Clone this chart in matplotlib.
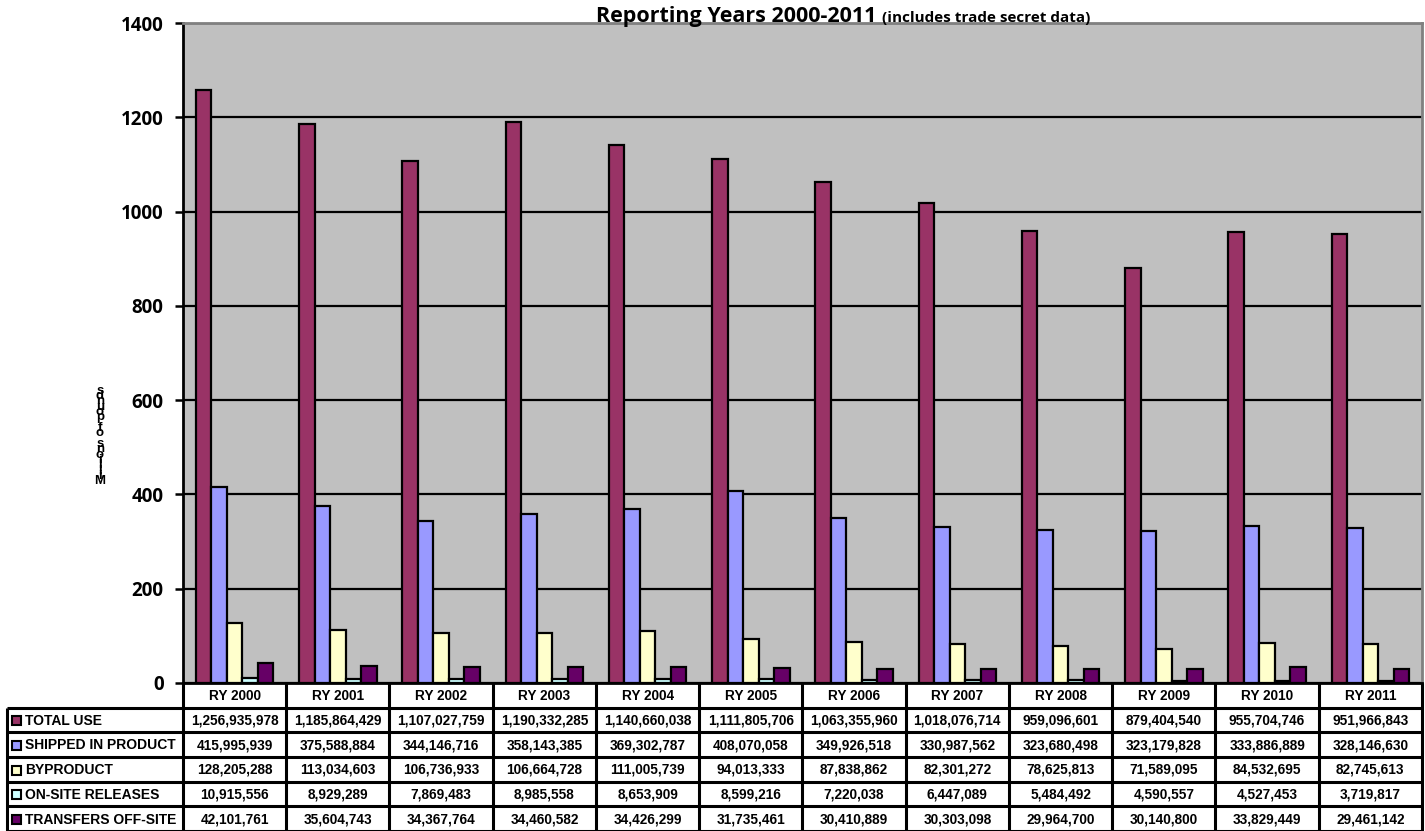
import numpy as np
import matplotlib
matplotlib.use("Agg")
import matplotlib.pyplot as plt
from matplotlib.patches import Rectangle


years = ["RY 2000", "RY 2001", "RY 2002", "RY 2003", "RY 2004", "RY 2005",
         "RY 2006", "RY 2007", "RY 2008", "RY 2009", "RY 2010", "RY 2011"]

series_names = ["TOTAL USE", "SHIPPED IN PRODUCT", "BYPRODUCT",
                "ON-SITE RELEASES", "TRANSFERS OFF-SITE"]

# pounds per reporting year
total_use = [1256935978, 1185864429, 1107027759, 1190332285, 1140660038, 1111805706,
             1063355960, 1018076714, 959096601, 879404540, 955704746, 951966843]
shipped_in_product = [415995939, 375588884, 344146716, 358143385, 369302787, 408070058,
                      349926518, 330987562, 323680498, 323179828, 333886889, 328146630]
byproduct = [128205288, 113034603, 106736933, 106664728, 111005739, 94013333,
             87838862, 82301272, 78625813, 71589095, 84532695, 82745613]
on_site_releases = [10915556, 8929289, 7869483, 8985558, 8653909, 8599216,
                    7220038, 6447089, 5484492, 4590557, 4527453, 3719817]
transfers_off_site = [42101761, 35604743, 34367764, 34460582, 34426299, 31735461,
                      30410889, 30303098, 29964700, 30140800, 33829449, 29461142]

colors = ["#993366", "#9999FF", "#FFFFCC", "#CCFFFF", "#660066"]

all_series = [total_use, shipped_in_product, byproduct, on_site_releases, transfers_off_site]

W, H = 1425, 831
fig = plt.figure(figsize=(W / 100, H / 100), dpi=100)

ax = fig.add_axes([183 / W, (H - 683) / H, (1422 - 183) / W, (683 - 23) / H])
ax.set_facecolor("#C0C0C0")

x = np.arange(len(years))
bar_w = 0.15
for i, (vals, c) in enumerate(zip(all_series, colors)):
    ax.bar(x + (i - 2) * bar_w, np.array(vals) / 1e6, width=bar_w, color=c,
           edgecolor="black", linewidth=1.6, zorder=3)

ax.set_xlim(-0.5, len(years) - 0.5)
ax.set_ylim(0, 1400)
ax.set_yticks(np.arange(0, 1401, 200))
ax.yaxis.grid(True, color="black", linewidth=1.6, zorder=0)
ax.set_axisbelow(True)
ax.set_xticks([])
ax.tick_params(axis="y", length=6, width=1.8, pad=8)
for lbl in ax.get_yticklabels():
    lbl.set_fontfamily("Open Sans")
    lbl.set_fontweight("bold")
    lbl.set_fontsize(13.5)

ax.spines["left"].set_linewidth(2)
ax.spines["bottom"].set_linewidth(2)
ax.spines["top"].set_color("#808080")
ax.spines["top"].set_linewidth(2)
ax.spines["right"].set_color("#808080")
ax.spines["right"].set_linewidth(2)

# title in two sizes
fig.text(882 / W, 1 - 22 / H, "Reporting Years 2000-2011 ", ha="right", va="baseline",
         fontfamily="Open Sans", fontweight="bold", fontsize=15.5)
fig.text(882 / W, 1 - 22 / H, "(includes trade secret data)", ha="left", va="baseline",
         fontfamily="Open Sans", fontweight="bold", fontsize=11)

# y label, letters stacked
ylab = "Millions of pounds"
fig.text(100 / W, 1 - 436 / H, "\n".join(reversed(ylab)), ha="center", va="center",
         fontfamily="Liberation Sans", fontweight="bold", fontsize=9.5, linespacing=0.26)

# data table under the bars, drawn in pixel coordinates
fig.canvas.draw()
edges = [ax.transData.transform((e, 0))[0] for e in np.arange(-0.5, len(years), 1.0)]
tax = fig.add_axes([0, 0, 1, (H - 683) / H])
tax.set_xlim(0, W)
tax.set_ylim(H, 683)
tax.axis("off")

row_tops = [683, 707.5, 732, 756.5, 781.5, 806, 831]
lw = 2.2
tfont = dict(fontfamily="Liberation Sans", fontweight="bold", fontsize=9.8)

# header row
for e in edges:
    tax.plot([e, e], [683, 831], color="black", linewidth=lw, solid_capstyle="butt")
for j, yr in enumerate(years):
    xc = (edges[j] + edges[j + 1]) / 2
    tax.text(xc, (row_tops[0] + row_tops[1]) / 2 + 1, yr, ha="center", va="center", **tfont)

left = 7
tax.plot([left, left], [row_tops[1], 831], color="black", linewidth=lw, solid_capstyle="butt")
for yv in row_tops[1:]:
    tax.plot([left, edges[-1]], [yv, yv], color="black", linewidth=lw, solid_capstyle="butt")

for r, (name, vals, c) in enumerate(zip(series_names, all_series, colors)):
    yc = (row_tops[r + 1] + row_tops[r + 2]) / 2 + 1
    tax.add_patch(Rectangle((12, yc - 4.5), 9, 9, facecolor=c, edgecolor="black",
                            linewidth=1.5, zorder=3))
    tax.text(25, yc, name, ha="left", va="center",
             fontfamily="Liberation Sans", fontweight="bold", fontsize=10)
    for j, v in enumerate(vals):
        xc = (edges[j] + edges[j + 1]) / 2
        tax.text(xc, yc, f"{v:,}", ha="center", va="center", **tfont)

fig.savefig("out.png", dpi=100)
